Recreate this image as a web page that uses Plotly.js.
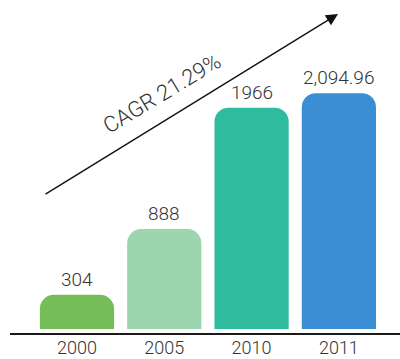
<!DOCTYPE html>
<html>
<head>
<meta charset="utf-8">
<script src="https://cdn.plot.ly/plotly-3.0.1.min.js"></script>
<style>html,body{margin:0;padding:0;background:#fff}#chart{width:400px;height:359px}</style>
</head>
<body>
<div id="chart"></div>
<script>
const years = ['2000', '2005', '2010', '2011'];
const values = [304, 888, 1966, 2094.96];
const valueLabels = ['304', '888', '1966', '2,094.96'];
const barColors = ['#74bd58', '#9bd6ae', '#2fbc9e', '#3a8fd4'];
const cagrLabel = 'CAGR 21.29%';

const font = {family: 'Roboto, sans-serif', weight: 300, color: '#333333'};

const trace = {
  type: 'bar',
  x: years,
  y: values,
  marker: {color: barColors, cornerradius: 14, line: {width: 0}},
  hoverinfo: 'skip'
};

const labelAnnotations = years.map((yr, i) => ({
  x: i, y: values[i], xref: 'x', yref: 'y',
  text: valueLabels[i], showarrow: false,
  yanchor: 'bottom', yshift: 2,
  font: Object.assign({}, font, {size: 19})
}));

const layout = {
  width: 400, height: 359,
  margin: {l: 10, r: 0, t: 0, b: 26},
  paper_bgcolor: '#ffffff', plot_bgcolor: '#ffffff',
  showlegend: false,
  bargap: 0.15,
  xaxis: {
    type: 'category', range: [-0.767, 3.70],
    showline: true, linecolor: '#1a1a1a', linewidth: 2,
    showgrid: false, zeroline: false, ticks: '',
    ticklabelstandoff: -3,
    tickfont: Object.assign({}, font, {size: 18}),
    fixedrange: true
  },
  yaxis: {
    range: [-35, 2922], visible: false, showgrid: false, zeroline: false, fixedrange: true
  },
  annotations: labelAnnotations.concat([
    {
      xref: 'paper', yref: 'paper', x: 0.841, y: 0.958,
      ax: -294, ay: 181, axref: 'pixel', ayref: 'pixel',
      text: '', showarrow: true, arrowhead: 2, arrowsize: 1.7, arrowwidth: 1.4,
      arrowcolor: '#111111'
    },
    {
      xref: 'paper', yref: 'paper', x: (162 - 10) / 390, y: (333 - 94) / 333,
      text: cagrLabel, showarrow: false, textangle: -31,
      xanchor: 'center', yanchor: 'middle',
      font: Object.assign({}, font, {size: 22})
    }
  ])
};

Plotly.newPlot('chart', [trace], layout, {displayModeBar: false, staticPlot: true});
</script>
</body>
</html>
